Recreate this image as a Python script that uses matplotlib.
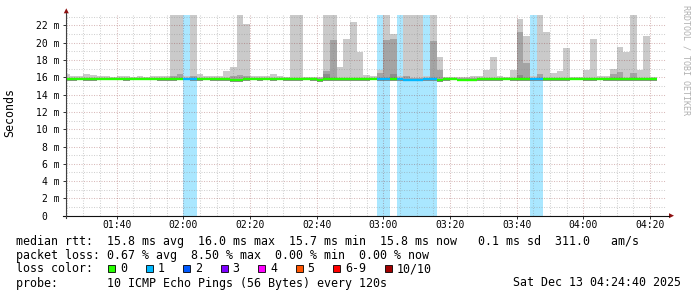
import matplotlib
matplotlib.use('Agg')
import matplotlib.pyplot as plt
from matplotlib.lines import Line2D
from matplotlib.patches import Polygon, Rectangle

W, H = 697, 297

# 2-minute bins, start minute of day (01:24 ... 04:20)
bin_start = list(range(84, 262, 2))

# smoke: outer (light) band top, middle band top, inner band top, band bottom  (ms)
smoke_top = [16.4, 16.2, 16.1, 16.4, 16.3, 16.2, 16.1, 16.0, 16.1, 16.1,
             16.0, 16.1, 16.0, 16.1, 16.2, 16.2, 24.0, 24.0, 16.1, 24.0,
             16.4, 16.1, 16.2, 16.2, 16.7, 17.2, 24.0, 22.2, 16.1, 16.1,
             16.2, 16.4, 16.1, 16.0, 24.0, 24.0, 16.0, 16.0, 16.0, 24.0,
             24.0, 17.2, 20.4, 22.4, 18.9, 16.3, 16.1, 16.8, 24.0, 21.0,
             16.2, 24.0, 24.0, 24.0, 16.2, 24.0, 18.3, 16.0, 16.0, 16.0,
             16.0, 16.1, 16.2, 16.8, 18.3, 16.1, 16.0, 16.9, 22.8, 20.8,
             16.2, 24.0, 21.2, 16.5, 16.7, 19.4, 16.0, 16.0, 16.8, 20.4,
             16.1, 16.1, 17.0, 19.5, 18.9, 24.0, 16.8, 20.8, 16.0]
smoke_mid = [15.9, 15.9, 15.9, 15.9, 15.9, 15.9, 15.9, 15.9, 15.9, 15.9,
             15.9, 15.9, 15.9, 15.9, 15.9, 15.9, 16.1, 16.4, 15.9, 16.1,
             15.9, 15.9, 15.9, 15.9, 15.9, 16.2, 16.3, 16.1, 15.9, 15.9,
             15.9, 15.9, 15.9, 15.9, 15.9, 15.9, 15.9, 15.9, 15.9, 16.7,
             20.3, 15.9, 15.9, 15.9, 15.9, 15.9, 15.9, 16.5, 20.3, 20.4,
             15.9, 16.1, 15.9, 15.9, 15.9, 20.2, 16.9, 15.9, 15.9, 15.9,
             15.9, 15.9, 15.9, 15.9, 15.9, 15.9, 15.9, 15.9, 21.2, 17.7,
             15.9, 16.4, 15.9, 15.9, 15.9, 15.9, 15.9, 15.9, 15.9, 15.9,
             15.9, 15.9, 16.4, 16.6, 15.9, 16.5, 15.9, 15.9, 15.9]
smoke_core = [15.8] * 39 + [16.4, 15.8] + [15.8] * 8 + [16.4] + [15.8] * 18 + [16.3] + [15.8] * 20
smoke_low = [15.6, 15.6, 15.65, 15.6, 15.6, 15.65, 15.65, 15.7, 15.65, 15.6,
             15.7, 15.65, 15.7, 15.65, 15.6, 15.6, 15.6, 15.65, 15.7, 15.6,
             15.6, 15.65, 15.6, 15.6, 15.6, 15.5, 15.5, 15.6, 15.65, 15.6,
             15.65, 15.6, 15.65, 15.6, 15.6, 15.6, 15.7, 15.6, 15.5, 15.6,
             15.6, 15.6, 15.6, 15.6, 15.6, 15.6, 15.65, 15.6, 15.6, 15.6,
             15.6, 15.55, 15.55, 15.55, 15.6, 15.6, 15.5, 15.6, 15.65, 15.55,
             15.55, 15.55, 15.6, 15.6, 15.6, 15.6, 15.65, 15.6, 15.6, 15.6,
             15.6, 15.6, 15.6, 15.6, 15.6, 15.6, 15.65, 15.65, 15.6, 15.6,
             15.65, 15.6, 15.6, 15.6, 15.6, 15.6, 15.6, 15.6, 15.6]
median = [15.85] * 25 + [15.65, 15.65] + [15.85] * 11 + [15.7] + [15.85] * 8 + \
         [15.8, 15.8, 15.85, 15.8, 15.75, 15.75, 15.75, 15.8, 15.8, 15.65, 15.85, 15.85,
          15.7, 15.7, 15.7] + [15.85] * 8 + [15.8, 15.8] + [15.85] * 17
# lost pings per bin (out of 10)
loss = [0] * 18 + [1, 1] + [0] * 27 + [1, 1, 0, 1, 1, 1, 1, 1, 1] + [0] * 14 + [1, 1] + [0] * 17

loss_labels = ['0', '1', '2', '3', '4', '5', '6-9', '10/10']
loss_colors = ['#26ff00', '#00b8ff', '#0059ff', '#7e00ff', '#ff00ff', '#ff5500', '#ff0000', '#a10000']
loss_bg = '#aae7ff'

x_major = list(range(100, 261, 20))
y_major = list(range(0, 23, 2))

mono = 'DejaVu Sans Mono'


def fx(x):
    return x / W


def fy(y):
    return 1 - y / H


fig = plt.figure(figsize=(W / 100, H / 100), dpi=100)
fig.patch.set_facecolor('white')
ax = fig.add_axes([fx(65.5), fy(215.7), 600 / W, (215.7 - 15.1) / H])
ax.set_xlim(84 + 40 / 60, 264 + 40 / 60)
ax.set_ylim(0, 23.2)

# loss background
for m, l in zip(bin_start, loss):
    if l > 0:
        ax.bar(m, 30, width=2, bottom=0, align='edge', color=loss_bg, lw=0, zorder=0.5)

# smoke
lo = smoke_low
ax.bar(bin_start, [t - b for t, b in zip(smoke_top, lo)], width=2, bottom=lo, align='edge',
       color='#cacaca', lw=0, zorder=1)
ax.bar(bin_start, [max(t - b, 0) for t, b in zip(smoke_mid, lo)], width=2, bottom=lo, align='edge',
       color='#a4a4a4', lw=0, zorder=1.1)
ax.bar(bin_start, [max(t - b, 0) for t, b in zip(smoke_core, lo)], width=2, bottom=lo, align='edge',
       color='#8c8c8c', lw=0, zorder=1.2)

# median line coloured by loss
ax.hlines(median, bin_start, [m + 2 for m in bin_start],
          colors=[loss_colors[min(l, 6) if l < 10 else 7] for l in loss], lw=1.7, zorder=4)

# grid
ax.set_xticks(x_major)
ax.set_xticks(list(range(85, 265, 5)), minor=True)
ax.set_yticks(y_major)
ax.set_yticks(list(range(1, 24, 2)), minor=True)
ax.set_axisbelow(False)
ax.grid(which='major', color='#821e1e', alpha=0.3, lw=0.75, linestyle=(0, (1, 1.4)))
ax.grid(which='minor', color='#8c8c8c', alpha=0.4, lw=0.75, linestyle=(0, (1, 1.4)))

ax.set_xticklabels([f'{m // 60:02d}:{m % 60:02d}' for m in x_major], family=mono, fontsize=7)
ax.set_yticklabels(['0  ' if v == 0 else f'{v} m' for v in y_major], family=mono, fontsize=7)
ax.tick_params(axis='both', which='major', direction='out', length=2, width=0.7, color='#303030')
ax.tick_params(axis='both', which='minor', length=0)
ax.tick_params(axis='y', pad=2.4)
ax.tick_params(axis='x', pad=1.4)
for s in ax.spines.values():
    s.set_visible(False)
ax.set_facecolor('white')

# axes lines + arrows
fig.add_artist(Line2D([fx(62.5), fx(669)], [fy(215.7), fy(215.7)], color='#101010', lw=0.8))
fig.add_artist(Line2D([fx(66.3), fx(66.3)], [fy(218), fy(13)], color='#404040', lw=0.8))
fig.add_artist(Polygon([[fx(669), fy(213.2)], [fx(674), fy(215.7)], [fx(669), fy(218.2)]],
                       closed=True, color='#8e1010', lw=0))
fig.add_artist(Polygon([[fx(63.8), fy(13.3)], [fx(66.3), fy(8.3)], [fx(68.8), fy(13.3)]],
                       closed=True, color='#8e1010', lw=0))

fig.text(fx(10), fy(113), 'Seconds', rotation=90, family=mono, fontsize=8.4, ha='center', va='center')
fig.text(fx(686), fy(60), 'RRDTOOL / TOBI OETIKER', rotation=270, family=mono, fontsize=6,
         color='#b0b0b0', ha='center', va='center')

# legend block
fs = 8.4
fig.text(fx(16), fy(241), 'median rtt:  15.8 ms avg  16.0 ms max  15.7 ms min  15.8 ms now   0.1 ms sd  311.0   am/s',
         family=mono, fontsize=fs, va='center')
fig.text(fx(16), fy(255), 'packet loss: 0.67 % avg  8.50 % max  0.00 % min  0.00 % now',
         family=mono, fontsize=fs, va='center')
fig.text(fx(16), fy(269), 'loss color:', family=mono, fontsize=fs, va='center')
bx = 108.3
for lab, col in zip(loss_labels, loss_colors):
    fig.add_artist(Rectangle((fx(bx), fy(271.5)), 7 / W, 7 / H, facecolor=col, edgecolor='black', lw=0.6))
    fig.text(fx(bx + 12), fy(269), lab, family=mono, fontsize=fs, va='center')
    bx = bx + 12 + len(lab) * 7.05 + 18.4
fig.text(fx(16), fy(283), 'probe:       10 ICMP Echo Pings (56 Bytes) every 120s',
         family=mono, fontsize=fs, va='center')
fig.text(fx(513.3), fy(283), 'Sat Dec 13 04:24:40 2025', family=mono, fontsize=fs, va='center')

fig.savefig('out.png', dpi=100)
